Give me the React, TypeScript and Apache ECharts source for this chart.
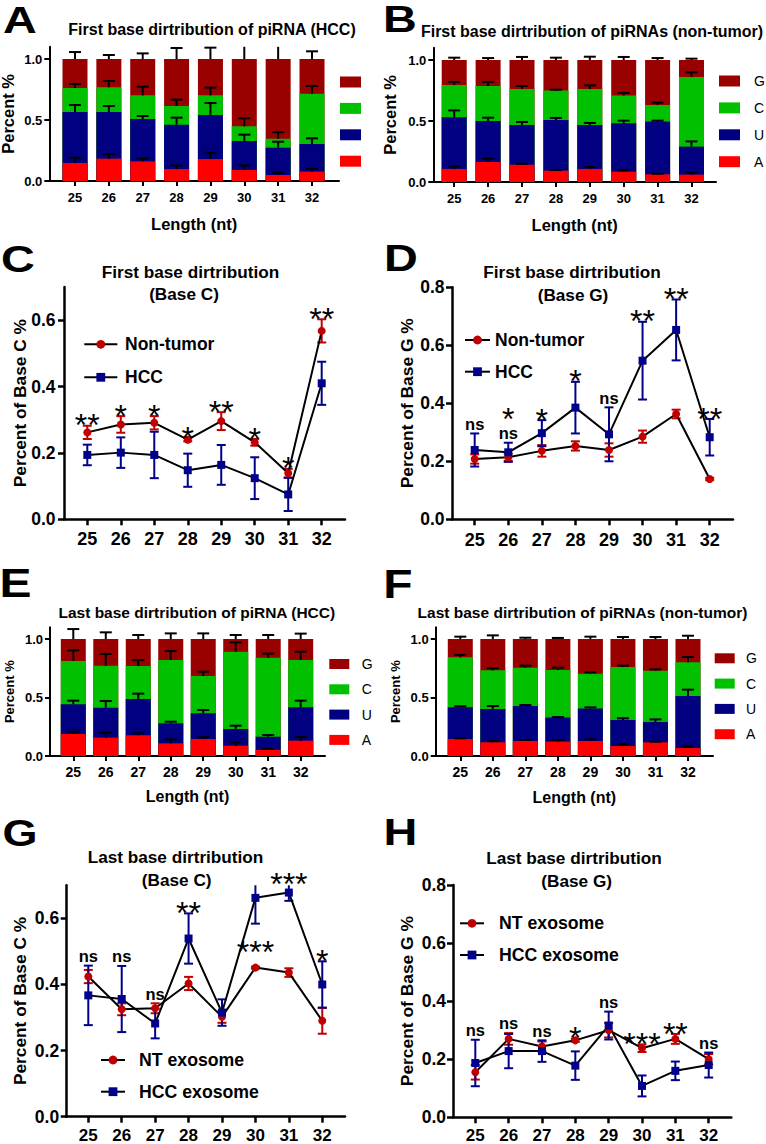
import React, { useEffect, useRef } from 'react';
import * as echarts from 'echarts';

// ---------------- data ----------------
const lengths = [25, 26, 27, 28, 29, 30, 31, 32];
const baseOrder = ['A', 'U', 'C', 'G']; // stacking order, bottom to top
const legendOrder = ['G', 'C', 'U', 'A'];

// Panel A: first base, HCC
const fHccA = [0.148, 0.183, 0.161, 0.098, 0.180, 0.090, 0.049, 0.077];
const fHccU = [0.418, 0.383, 0.347, 0.364, 0.361, 0.238, 0.224, 0.226];
const fHccC = [0.196, 0.202, 0.194, 0.153, 0.161, 0.120, 0.074, 0.413];
const fHccG = [0.238, 0.232, 0.298, 0.385, 0.298, 0.552, 0.653, 0.284];
const fHccAErr = [0.042, 0.038, 0.022, 0.030, 0.050, 0.038, 0.019, 0.023];
const fHccUErr = [0.057, 0.049, 0.025, 0.057, 0.098, 0.052, 0.049, 0.047];
const fHccCErr = [0.033, 0.052, 0.071, 0.052, 0.063, 0.066, 0.053, 0.063];
const fHccGErr = [0.057, 0.033, 0.046, 0.090, 0.093, 0.134, 0.105, 0.063];

// Panel B: first base, non-tumor
const fNtA = [0.107, 0.164, 0.142, 0.093, 0.107, 0.085, 0.063, 0.060];
const fNtU = [0.423, 0.336, 0.325, 0.415, 0.360, 0.396, 0.432, 0.230];
const fNtC = [0.265, 0.287, 0.295, 0.241, 0.295, 0.229, 0.136, 0.571];
const fNtG = [0.205, 0.213, 0.238, 0.251, 0.238, 0.290, 0.369, 0.139];
const fNtAErr = [0.021, 0.027, 0.008, 0.005, 0.016, 0.011, 0.005, 0.017];
const fNtUErr = [0.057, 0.027, 0.025, 0.017, 0.017, 0.022, 0.008, 0.043];
const fNtCErr = [0.025, 0.033, 0.025, 0.008, 0.030, 0.020, 0.019, 0.038];
const fNtGErr = [0.019, 0.016, 0.025, 0.019, 0.027, 0.025, 0.016, 0.011];

// Panel C: first base C
const cNt = [0.262, 0.286, 0.291, 0.240, 0.296, 0.232, 0.139, 0.568];
const cNtErr = [0.020, 0.025, 0.020, 0.005, 0.027, 0.010, 0.013, 0.035];
const cHcc = [0.194, 0.201, 0.194, 0.148, 0.164, 0.124, 0.075, 0.410];
const cHccErr = [0.031, 0.046, 0.070, 0.050, 0.060, 0.063, 0.050, 0.065];
const cSig = ['**', '*', '*', '*', '**', '*', '*', '**'];

// Panel D: first base G
const dNt = [0.208, 0.214, 0.236, 0.253, 0.239, 0.285, 0.363, 0.139];
const dNtErr = [0.016, 0.012, 0.020, 0.016, 0.023, 0.021, 0.015, 0.004];
const dHcc = [0.239, 0.231, 0.297, 0.385, 0.293, 0.547, 0.653, 0.283];
const dHccErr = [0.057, 0.033, 0.045, 0.089, 0.093, 0.134, 0.105, 0.063];
const dSig = ['ns', 'ns|*', '*', '*', 'ns', '**', '**', '**'];

// Panel E: last base, HCC
const lHccA = [0.188, 0.157, 0.177, 0.108, 0.145, 0.088, 0.051, 0.131];
const lHccU = [0.254, 0.256, 0.310, 0.171, 0.220, 0.143, 0.114, 0.285];
const lHccC = [0.370, 0.359, 0.282, 0.542, 0.319, 0.661, 0.675, 0.405];
const lHccG = [0.188, 0.228, 0.231, 0.179, 0.316, 0.108, 0.160, 0.179];
const lHccAErr = [0.020, 0.042, 0.017, 0.034, 0.017, 0.029, 0.009, 0.031];
const lHccUErr = [0.031, 0.057, 0.046, 0.014, 0.028, 0.028, 0.014, 0.057];
const lHccCErr = [0.091, 0.100, 0.050, 0.076, 0.037, 0.080, 0.035, 0.070];
const lHccGErr = [0.085, 0.057, 0.034, 0.048, 0.048, 0.034, 0.034, 0.046];

// Panel F: last base, non-tumor
const lNtA = [0.145, 0.117, 0.128, 0.123, 0.128, 0.085, 0.117, 0.068];
const lNtU = [0.271, 0.285, 0.299, 0.205, 0.279, 0.223, 0.174, 0.445];
const lNtC = [0.427, 0.330, 0.328, 0.407, 0.297, 0.453, 0.438, 0.288];
const lNtG = [0.157, 0.268, 0.245, 0.265, 0.296, 0.239, 0.271, 0.199];
const lNtAErr = [0.006, 0.011, 0.009, 0.014, 0.014, 0.018, 0.006, 0.012];
const lNtUErr = [0.009, 0.025, 0.009, 0.005, 0.009, 0.014, 0.022, 0.054];
const lNtCErr = [0.020, 0.017, 0.017, 0.020, 0.011, 0.011, 0.012, 0.045];
const lNtGErr = [0.020, 0.031, 0.011, 0.009, 0.020, 0.017, 0.017, 0.028];

// Panel G: last base C
const gNt = [0.424, 0.325, 0.328, 0.403, 0.302, 0.451, 0.436, 0.290];
const gNtErr = [0.020, 0.018, 0.015, 0.020, 0.018, 0.003, 0.013, 0.039];
const gHcc = [0.367, 0.356, 0.282, 0.539, 0.315, 0.662, 0.678, 0.400];
const gHccErr = [0.090, 0.100, 0.045, 0.076, 0.040, 0.078, 0.025, 0.070];
const gSig = ['ns', 'ns', 'ns', '**', '', '***', '***', '*'];

// Panel H: last base G
const hNt = [0.155, 0.270, 0.244, 0.265, 0.300, 0.238, 0.270, 0.200];
const hNtErr = [0.025, 0.020, 0.017, 0.005, 0.025, 0.013, 0.017, 0.018];
const hHcc = [0.187, 0.228, 0.228, 0.178, 0.316, 0.108, 0.160, 0.180];
const hHccErr = [0.080, 0.059, 0.037, 0.049, 0.048, 0.036, 0.032, 0.043];
const hSig = ['ns', 'ns', 'ns', '*', 'ns', '***', '**', 'ns'];

const barTicks = [0, 0.5, 1.0];
const lineTicks07 = [0, 0.2, 0.4, 0.6];
const lineTicks08 = [0, 0.2, 0.4, 0.6, 0.8];

// ---------------- styles ----------------
const FONT = "'Liberation Sans', Arial, Helvetica, sans-serif";
const BLACK = '#000000';
const RED = '#C00000';
const NAVY = '#00008B';
const BASE_COLORS: Record<string, string> = { A: '#FF0000', U: '#000080', C: '#00C000', G: '#990000' };

function buildOption() {
  const grid: any[] = [];
  const xAxis: any[] = [];
  const yAxis: any[] = [];
  const series: any[] = [];
  const legend: any[] = [];
  const graphic: any[] = [];

  function addAxes(p: any) {
    const gi = grid.length;
    grid.push({ left: p.left, top: p.top, width: p.width, height: p.height, outerBoundsMode: 'none' });
    const lineStyle = { color: BLACK, width: p.lw };
    xAxis.push({
      gridIndex: gi, type: 'value', min: p.xmin, max: p.xmax,
      name: p.xName || '', nameLocation: 'middle', nameGap: p.xNameGap || 30, nameMoveOverlap: false,
      nameTextStyle: { fontFamily: FONT, fontWeight: 'bold', fontSize: p.xNameSize || 16, color: BLACK },
      axisLine: { show: true, onZero: false, lineStyle },
      axisTick: { show: true, length: p.tick, lineStyle, customValues: lengths },
      axisLabel: {
        show: true, customValues: lengths, fontFamily: FONT, fontWeight: 'bold', fontSize: p.xLabelSize,
        lineHeight: p.xLabelLH, color: BLACK, margin: p.xLabelMargin, formatter: (v: number) => String(Math.round(v)),
      },
      splitLine: { show: false },
    });
    yAxis.push({
      gridIndex: gi, type: 'value', min: 0, max: p.ymax,
      name: p.yName, nameLocation: 'middle', nameRotate: 90, nameGap: p.yNameGap, nameMoveOverlap: false,
      nameTextStyle: { fontFamily: FONT, fontWeight: 'bold', fontSize: p.yNameSize, color: BLACK },
      axisLine: { show: true, onZero: false, lineStyle },
      axisTick: { show: true, length: p.tick, lineStyle, customValues: p.yTicks },
      axisLabel: {
        show: true, customValues: p.yTicks, fontFamily: FONT, fontWeight: 'bold', fontSize: p.yLabelSize,
        color: BLACK, margin: p.yLabelMargin, formatter: (v: number) => v.toFixed(1),
      },
      splitLine: { show: false },
    });
    return gi;
  }

  function addBarPanel(p: any) {
    const gi = addAxes(p);
    const vals: number[][] = p.vals;
    const errs: number[][] = p.errs;
    // cumulative tops of each segment (A, A+U, A+U+C, A+U+C+G)
    const cum: number[][] = baseOrder.map((_, k) =>
      lengths.map((_x, i) => vals.slice(0, k + 1).reduce((s, arr) => s + arr[i], 0))
    );
    // draw the tallest (top) segment first so the lower segments lie over it
    for (let k = baseOrder.length - 1; k >= 0; k--) {
      const b = baseOrder[k];
      series.push({
        type: 'bar', name: b, xAxisIndex: gi, yAxisIndex: gi,
        barWidth: p.barWidth, barGap: '-100%', silent: true, emphasis: { disabled: true },
        itemStyle: { color: BASE_COLORS[b] },
        data: lengths.map((x, i) => [x, cum[k][i]]),
      });
    }
    const errData: number[][] = [];
    lengths.forEach((x, i) => {
      for (let k = 0; k < 4; k++) errData.push([x, cum[k][i], cum[k][i] + errs[k][i]]);
    });
    const ymax = p.ymax;
    series.push({
      type: 'custom', xAxisIndex: gi, yAxisIndex: gi, z: 5, silent: true,
      encode: { x: 0, y: [1, 2] },
      data: errData,
      renderItem: (params: any, api: any) => {
        const x = api.value(0);
        const lo = api.value(1);
        const hi = api.value(2);
        const hiC = Math.min(hi, ymax);
        const p0 = api.coord([x, lo]);
        const p1 = api.coord([x, hiC]);
        const cw = 6;
        const children: any[] = [
          { type: 'line', shape: { x1: p0[0], y1: p0[1], x2: p1[0], y2: p1[1] }, style: { stroke: BLACK, lineWidth: 2 } },
        ];
        if (hi <= ymax) {
          children.push({ type: 'line', shape: { x1: p1[0] - cw, y1: p1[1], x2: p1[0] + cw, y2: p1[1] }, style: { stroke: BLACK, lineWidth: 2 } });
        }
        return { type: 'group', children };
      },
    });
    const lg = p.legend;
    legend.push({
      orient: 'vertical', left: lg.left, top: lg.top, padding: 0,
      itemWidth: lg.w, itemHeight: lg.h, itemGap: lg.gap,
      icon: 'rect', selectedMode: false, data: legendOrder,
      formatter: lg.text ? '{name}' : () => '',
      textStyle: { fontFamily: FONT, fontSize: 14, lineHeight: 14, height: 14, color: BLACK, padding: [0, 0, 0, lg.pad || 0] },
    });
  }

  function addLinePanel(p: any) {
    const gi = addAxes(p);
    const ymax = p.ymax;
    const groups = [
      { name: p.ntName, mean: p.nt, err: p.ntErr, color: RED, symbol: 'circle' },
      { name: p.hccName, mean: p.hcc, err: p.hccErr, color: NAVY, symbol: 'rect' },
    ];
    groups.forEach((g) => {
      series.push({
        type: 'custom', xAxisIndex: gi, yAxisIndex: gi, z: 3, silent: true,
        encode: { x: 0, y: [1, 2] },
        data: lengths.map((x, i) => [x, g.mean[i] - g.err[i], g.mean[i] + g.err[i]]),
        renderItem: (params: any, api: any) => {
          const x = api.value(0);
          const lo = api.value(1);
          const hi = api.value(2);
          const pl = api.coord([x, Math.max(lo, 0)]);
          const ph = api.coord([x, Math.min(hi, ymax)]);
          const cw = 4.5;
          const st = { stroke: g.color, lineWidth: 2 };
          const children: any[] = [
            { type: 'line', shape: { x1: pl[0], y1: pl[1], x2: ph[0], y2: ph[1] }, style: st },
          ];
          if (hi <= ymax) children.push({ type: 'line', shape: { x1: ph[0] - cw, y1: ph[1], x2: ph[0] + cw, y2: ph[1] }, style: st });
          if (lo >= 0) children.push({ type: 'line', shape: { x1: pl[0] - cw, y1: pl[1], x2: pl[0] + cw, y2: pl[1] }, style: st });
          return { type: 'group', children };
        },
      });
    });
    groups.forEach((g) => {
      series.push({
        type: 'line', name: g.name, xAxisIndex: gi, yAxisIndex: gi, z: 4, silent: true,
        emphasis: { disabled: true },
        symbol: g.symbol, symbolSize: 8, showAllSymbol: true,
        itemStyle: { color: g.color },
        lineStyle: { color: BLACK, width: 2 },
        data: lengths.map((x, i) => [x, g.mean[i]]),
      });
    });
    // significance labels, anchored at the top of the error bars
    const mid: boolean[] = [];
    const anchor: number[] = lengths.map((x, i) => {
      const tops = groups.map((g) => g.mean[i] + g.err[i]);
      const top = Math.max(tops[0], tops[1]);
      if (top > ymax + 0.02) {
        const lowIdx = groups[0].mean[i] < groups[1].mean[i] ? 0 : 1;
        const low = groups[lowIdx];
        const high = groups[1 - lowIdx];
        mid[i] = true;
        return (low.mean[i] + low.err[i] + high.mean[i] - high.err[i]) / 2;
      }
      mid[i] = false;
      return top;
    });
    const sig: string[] = p.sig;
    series.push({
      type: 'custom', xAxisIndex: gi, yAxisIndex: gi, z: 6, silent: true,
      encode: { x: 0, y: 1 },
      data: lengths.map((x, i) => [x, anchor[i]]),
      renderItem: (params: any, api: any) => {
        const i = params.dataIndex;
        const parts = sig[i] ? sig[i].split('|') : [];
        if (!parts.length) return { type: 'group', children: [] };
        const pt = api.coord([api.value(0), api.value(1)]);
        const children: any[] = [];
        const firstStar = parts[0][0] === '*';
        let inkBottom = mid[i] ? pt[1] + (firstStar ? 5.1 : 4.3) : pt[1] - (firstStar ? 2 : 4);
        for (const t of parts) {
          const isStar = t[0] === '*';
          const size = isStar ? 32 : 16.5;
          const cy = isStar ? inkBottom + 0.05 * size : inkBottom - 0.3465 * size;
          const inkH = isStar ? 0.32 * size : 0.519 * size;
          children.push({
            type: 'text', x: pt[0], y: cy,
            style: {
              text: t, fill: BLACK, fontFamily: FONT, fontSize: size, fontWeight: isStar ? 'normal' : 'bold',
              lineHeight: isStar ? 12 : 14,
              align: 'center', verticalAlign: 'middle', textAlign: 'center', textVerticalAlign: 'middle',
            },
          });
          inkBottom = inkBottom - inkH - 13;
        }
        return { type: 'group', children };
      },
    });
    const lg = p.legend;
    legend.push({
      orient: 'vertical', left: lg.left, top: lg.top, padding: 0,
      itemWidth: lg.w, itemHeight: 11, itemGap: lg.gap,
      selectedMode: false, data: [p.ntName, p.hccName],
      textStyle: {
        fontFamily: FONT, fontWeight: 'bold', fontSize: lg.fs, lineHeight: 18, color: BLACK,
        padding: [0, 0, 0, lg.pad || 0],
      },
    });
  }

  function addText(text: string, x: number, y: number, size: number, scaleX = 1, lineHeight?: number) {
    graphic.push({
      type: 'text', x, y, scaleX, silent: true,
      style: {
        text, fill: BLACK, fontFamily: FONT, fontSize: size, fontWeight: 'bold',
        lineHeight: lineHeight || size,
        align: 'center', verticalAlign: 'middle', textAlign: 'center', textVerticalAlign: 'middle',
      },
    });
  }

  // ----- Panel A -----
  addBarPanel({
    left: 49.3, top: 46.8, width: 289.7, height: 134.2, xmin: 24.241, xmax: 32.797, ymax: 1.1, yTicks: barTicks,
    lw: 2, tick: 5, xLabelSize: 13, xLabelLH: 13, yLabelSize: 13, xLabelMargin: 9.5, yLabelMargin: 7,
    xName: 'Length (nt)', xNameSize: 16.5, xNameGap: 34.3, yName: 'Percent %', yNameSize: 16.5, yNameGap: 32.7,
    barWidth: 25,
    vals: [fHccA, fHccU, fHccC, fHccG], errs: [fHccAErr, fHccUErr, fHccCErr, fHccGErr],
    legend: { left: 340, top: 75, w: 21, h: 11, gap: 12.4, text: false },
  });
  // ----- Panel B -----
  addBarPanel({
    left: 433.3, top: 47.8, width: 282.7, height: 134.2, xmin: 24.383, xmax: 32.723, ymax: 1.1, yTicks: barTicks,
    lw: 2, tick: 5, xLabelSize: 13, xLabelLH: 13, yLabelSize: 13, xLabelMargin: 9.8, yLabelMargin: 7,
    xName: 'Length (nt)', xNameSize: 16.5, xNameGap: 34.7, yName: 'Percent %', yNameSize: 16.5, yNameGap: 35,
    barWidth: 25,
    vals: [fNtA, fNtU, fNtC, fNtG], errs: [fNtAErr, fNtUErr, fNtCErr, fNtGErr],
    legend: { left: 719, top: 74, w: 21, h: 11, gap: 12.9, text: true, pad: 9 },
  });
  // ----- Panel C -----
  addLinePanel({
    left: 64, top: 287.1, width: 281, height: 232.2, xmin: 24.304, xmax: 32.696, ymax: 0.7, yTicks: lineTicks07,
    lw: 2.5, tick: 6, xLabelSize: 18, xLabelLH: 13, yLabelSize: 17.5, xLabelMargin: 13.5, yLabelMargin: 8.5,
    yName: 'Percent of Base C %', yNameSize: 17.3, yNameGap: 36,
    ntName: 'Non-tumor', hccName: 'HCC', nt: cNt, ntErr: cNtErr, hcc: cHcc, hccErr: cHccErr, sig: cSig,
    legend: { left: 83.3, top: 335.3, w: 33, gap: 15, pad: 2.7, fs: 17.5 },
  });
  // ----- Panel D -----
  addLinePanel({
    left: 452, top: 287.3, width: 281, height: 232, xmin: 24.324, xmax: 32.694, ymax: 0.8, yTicks: lineTicks08,
    lw: 2.5, tick: 6, xLabelSize: 18, xLabelLH: 13, yLabelSize: 17.5, xLabelMargin: 14.2, yLabelMargin: 7.5,
    yName: 'Percent of Base G %', yNameSize: 17.4, yNameGap: 37,
    ntName: 'Non-tumor', hccName: 'HCC', nt: dNt, ntErr: dNtErr, hcc: dHcc, hccErr: dHccErr, sig: dSig,
    legend: { left: 464, top: 331, w: 25, gap: 13.7, pad: 0, fs: 17.5 },
  });
  // ----- Panel E -----
  addBarPanel({
    left: 50, top: 627.3, width: 275, height: 128.7, xmin: 24.283, xmax: 32.748, ymax: 1.1, yTicks: barTicks,
    lw: 2, tick: 5, xLabelSize: 14, xLabelLH: 14, yLabelSize: 13, xLabelMargin: 8.7, yLabelMargin: 7,
    xName: 'Length (nt)', xNameSize: 16, xNameGap: 32, yName: 'Percent %', yNameSize: 13, yNameGap: 34.3,
    barWidth: 25,
    vals: [lHccA, lHccU, lHccC, lHccG], errs: [lHccAErr, lHccUErr, lHccCErr, lHccGErr],
    legend: { left: 329.3, top: 657, w: 20, h: 10, gap: 11.3, text: true, pad: 7.4 },
  });
  // ----- Panel F -----
  addBarPanel({
    left: 435.7, top: 627.3, width: 277.3, height: 128.7, xmin: 24.244, xmax: 32.769, ymax: 1.1, yTicks: barTicks,
    lw: 2, tick: 5, xLabelSize: 14, xLabelLH: 14, yLabelSize: 13, xLabelMargin: 8.7, yLabelMargin: 7,
    xName: 'Length (nt)', xNameSize: 16, xNameGap: 33, yName: 'Percent %', yNameSize: 13, yNameGap: 33.5,
    barWidth: 25,
    vals: [lNtA, lNtU, lNtC, lNtG], errs: [lNtAErr, lNtUErr, lNtCErr, lNtGErr],
    legend: { left: 714.7, top: 651.3, w: 20, h: 10, gap: 11.3, text: true, pad: 6.3 },
  });
  // ----- Panel G -----
  addLinePanel({
    left: 66.7, top: 885.3, width: 278.3, height: 231.4, xmin: 24.354, xmax: 32.68, ymax: 0.7, yTicks: lineTicks07,
    lw: 2.5, tick: 6, xLabelSize: 17, xLabelLH: 13, yLabelSize: 17.5, xLabelMargin: 11.8, yLabelMargin: 7.5,
    yName: 'Percent of Base C %', yNameSize: 17.3, yNameGap: 38.7,
    ntName: 'NT exosome', hccName: 'HCC exosome', nt: gNt, ntErr: gNtErr, hcc: gHcc, hccErr: gHccErr, sig: gSig,
    legend: { left: 100, top: 1051, w: 24, gap: 13.7, pad: 9, fs: 17.7 },
  });
  // ----- Panel H -----
  addLinePanel({
    left: 453, top: 885, width: 278.3, height: 232.3, xmin: 24.331, xmax: 32.678, ymax: 0.8, yTicks: lineTicks08,
    lw: 2.5, tick: 6, xLabelSize: 17, xLabelLH: 13, yLabelSize: 17.5, xLabelMargin: 11.2, yLabelMargin: 7,
    yName: 'Percent of Base G %', yNameSize: 17.4, yNameGap: 37.3,
    ntName: 'NT exosome', hccName: 'HCC exosome', nt: hNt, ntErr: hNtErr, hcc: hHcc, hccErr: hHccErr, sig: hSig,
    legend: { left: 459, top: 914.3, w: 24, gap: 13.7, pad: 10, fs: 17.7 },
  });

  // titles
  addText('First base dirtribution of piRNA (HCC)', 212, 29.2, 16);
  addText('First base dirtribution of piRNAs (non-tumor)', 592, 31.7, 16);
  addText('First base dirtribution', 190.5, 271.5, 17.2);
  addText('(Base C)', 184, 294.3, 17.2);
  addText('First base dirtribution', 572, 271.5, 17.2);
  addText('(Base G)', 573, 295, 17.2);
  addText('Last base dirtribution of piRNA (HCC)', 196.8, 612.5, 15.5);
  addText('Last base dirtribution of piRNAs (non-tumor)', 582.5, 612.5, 15.5);
  addText('Last base dirtribution', 175.5, 857, 17.2);
  addText('(Base C)', 176.7, 880, 17.2);
  addText('Last base dirtribution', 574, 858, 17.2);
  addText('(Base G)', 576.7, 881, 17.2);

  // panel letters
  addText('A', 20, 20.3, 36, 1.3, 28);
  addText('B', 400, 19.5, 36, 1.3, 28);
  addText('C', 18, 259, 36, 1.3, 28);
  addText('D', 401, 258.5, 36, 1.3, 28);
  addText('E', 15.5, 583, 40, 1.2, 30);
  addText('F', 398, 583.5, 40, 1.2, 30);
  addText('G', 20, 833.5, 36, 1.25, 28);
  addText('H', 400.5, 832.5, 36, 1.3, 28);

  return {
    animation: false,
    backgroundColor: '#ffffff',
    textStyle: { fontFamily: FONT },
    grid, xAxis, yAxis, series, legend, graphic,
  };
}

export default function App() {
  const ref = useRef<HTMLDivElement>(null);
  useEffect(() => {
    if (!ref.current) return;
    const chart = echarts.init(ref.current, undefined, { renderer: 'svg' });
    chart.setOption(buildOption() as any);
    return () => chart.dispose();
  }, []);
  return (
    <div
      ref={ref}
      style={{ position: 'absolute', left: 0, top: 0, width: 766, height: 1144, background: '#fff' }}
    />
  );
}
